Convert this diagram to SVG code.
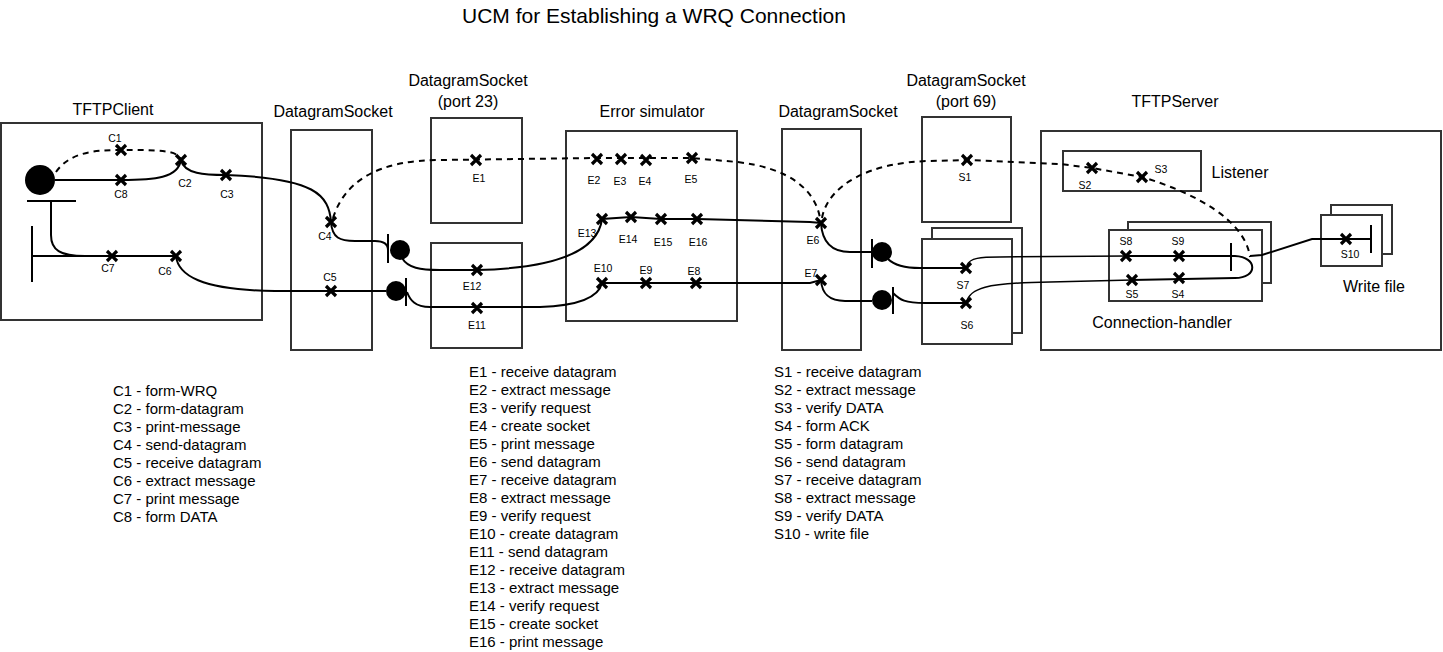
<svg xmlns="http://www.w3.org/2000/svg" width="1443" height="652" viewBox="0 0 1443 652">
<defs>
<style>
text{font-family:"Liberation Sans",Arial,sans-serif;fill:#000}
.t{font-size:21px;text-anchor:middle}
.h{font-size:16px;text-anchor:middle}
.l{font-size:10.5px;text-anchor:middle}
.g{font-size:15px}
.box{fill:#fff;stroke:#333;stroke-width:2}
.p{fill:none;stroke:#000;stroke-width:2}
.thin{fill:none;stroke:#000;stroke-width:1.5}
.d{fill:none;stroke:#000;stroke-width:2;stroke-dasharray:6,5}
.bar{stroke:#000;stroke-width:2}
.x{fill:none;stroke:#000;stroke-width:3.2}
</style>
<path id="x" class="x" d="M-5,-5 L5,5 M5,-5 L-5,5"/>
</defs>
<rect width="1443" height="652" fill="#fff"/>
<text class="t" x="654" y="23">UCM for Establishing a WRQ Connection</text>

<g id="tftpclient">
<rect class="box" x="1" y="123" width="261" height="197"/>
<text class="h" x="113" y="115">TFTPClient</text>
</g>
<g id="dsock1">
<rect class="box" x="291" y="130" width="81" height="220"/>
<text class="h" x="333" y="117">DatagramSocket</text>
</g>
<g id="port23">
<rect class="box" x="431" y="118" width="91" height="105"/>
<rect class="box" x="431" y="243" width="91" height="105"/>
<text class="h" x="468" y="86">DatagramSocket</text>
<text class="h" x="468" y="107">(port 23)</text>
</g>
<g id="errorsim">
<rect class="box" x="566" y="131" width="171" height="190"/>
<text class="h" x="652" y="117">Error simulator</text>
</g>
<g id="dsock2">
<rect class="box" x="782" y="129" width="79" height="221"/>
<text class="h" x="838" y="117">DatagramSocket</text>
</g>
<g id="port69">
<rect class="box" x="922" y="117" width="89" height="105"/>
<rect class="box" x="932" y="228" width="90" height="105"/>
<rect class="box" x="922" y="239" width="90" height="105"/>
<text class="h" x="966" y="86">DatagramSocket</text>
<text class="h" x="966" y="107">(port 69)</text>
</g>
<g id="tftpserver">
<rect class="box" x="1041" y="131" width="400" height="219"/>
<text class="h" x="1175" y="107">TFTPServer</text>
</g>
<g id="listener">
<rect class="box" x="1063" y="151" width="138" height="40"/>
<text class="h" x="1240" y="178">Listener</text>
</g>
<g id="connhandler">
<rect class="box" x="1128" y="222" width="143" height="61"/>
<rect class="box" x="1109" y="230" width="153" height="71"/>
<text class="h" x="1162" y="328">Connection-handler</text>
</g>
<g id="writefile">
<rect class="box" x="1331" y="205" width="61" height="49"/>
<rect class="box" x="1321" y="215" width="61" height="51"/>
<text class="h" x="1374" y="292">Write file</text>
</g>

<g id="connectors">
<circle cx="40" cy="180" r="15" fill="#000"/>
<line class="bar" x1="27" y1="201" x2="76" y2="201"/>
<path class="p" d="M55,180 L121,180 C155,180 178,178 181,160 C184,174 205,175 226,175 C315,178 329,195 331,222 C332,238 340,241 355,241 L375,241 C385,241 388,245 388,250"/>
<path class="d" d="M56,172 C70,152 95,150 121,150 C160,150 178,150 181,160"/>
<path class="p" d="M51,201 L51,235 C51,250 60,256 85,256 L32,256"/>
<path class="p" d="M85,256 L176,256 C178,275 200,290 275,291 L386,291"/>
<line class="bar" x1="32" y1="226" x2="32" y2="282"/>
<line class="bar" x1="388" y1="234" x2="388" y2="263"/>
<circle cx="400" cy="250" r="10" fill="#000"/>
<circle cx="396" cy="291" r="10" fill="#000"/>
<line class="bar" x1="406" y1="278" x2="406" y2="306"/>
<path class="d" d="M333,218 C345,180 380,160 440,160 L597,158 L692,158 L737,162 C790,168 815,190 820,218"/>
<path class="p" d="M402,258 C408,268 420,270 440,270 L477,270 C560,268 598,250 602,219 L631,217 L661,219 L697,219 L810,222 L821,223"/>
<path class="p" d="M821,280 L810,283 L602,283 C598,300 570,306 540,307 L430,307 C415,307 410,300 407,292"/>
<path class="p" d="M821,223 C822,240 830,252 850,252 L872,252"/>
<line class="bar" x1="872" y1="239" x2="872" y2="268"/>
<circle cx="882" cy="252" r="10" fill="#000"/>
<path class="p" d="M888,259 C895,266 905,268 920,268 L966,268"/>
<path class="p" d="M821,280 C822,295 830,301 845,301 L872,301"/>
<circle cx="882" cy="300" r="10" fill="#000"/>
<line class="bar" x1="893" y1="287" x2="893" y2="314"/>
<path class="p" d="M893,293 C900,300 905,303 925,303 L966,303"/>
<path class="d" d="M822,218 C828,185 870,162 930,161 L967,160 L1060,164 L1092,168 L1142,177 C1195,193 1245,220 1250,257"/>
<path class="thin" d="M967,265 C970,258 980,257 1000,257 L1127,256"/>
<path class="p" d="M1127,256 L1235,256 C1258,257 1258,278 1235,278 L1132,280"/>
<path class="thin" d="M1132,280 L1050,282 C985,283 970,288 966,303"/>
<line class="bar" x1="1231" y1="243" x2="1231" y2="271"/>
<path class="p" d="M1250,256 L1262,255 L1312,239 L1371,239"/>
<line class="bar" x1="1371" y1="225" x2="1371" y2="253"/>
</g>

<g id="points">
<use href="#x" x="121" y="150"/><use href="#x" x="121" y="180"/><use href="#x" x="181" y="160"/><use href="#x" x="226" y="175"/>
<use href="#x" x="331" y="222"/><use href="#x" x="331" y="291"/><use href="#x" x="112" y="256"/><use href="#x" x="176" y="256"/>
<use href="#x" x="476" y="160"/><use href="#x" x="477" y="270"/><use href="#x" x="477" y="308"/>
<use href="#x" x="597" y="159"/><use href="#x" x="621" y="159"/><use href="#x" x="646" y="160"/><use href="#x" x="692" y="158"/>
<use href="#x" x="602" y="219"/><use href="#x" x="631" y="217"/><use href="#x" x="661" y="219"/><use href="#x" x="697" y="219"/>
<use href="#x" x="602" y="283"/><use href="#x" x="646" y="283"/><use href="#x" x="696" y="283"/>
<use href="#x" x="821" y="223"/><use href="#x" x="821" y="280"/>
<use href="#x" x="967" y="160"/><use href="#x" x="966" y="268"/><use href="#x" x="966" y="303"/>
<use href="#x" x="1092" y="168"/><use href="#x" x="1142" y="177"/>
<use href="#x" x="1126" y="256"/><use href="#x" x="1179" y="256"/><use href="#x" x="1179" y="278"/><use href="#x" x="1132" y="280"/>
<use href="#x" x="1346" y="239"/>
</g>

<g id="labels">
<text class="l" x="115" y="142">C1</text><text class="l" x="121" y="198">C8</text><text class="l" x="185" y="187">C2</text><text class="l" x="227" y="198">C3</text>
<text class="l" x="108" y="272">C7</text><text class="l" x="165" y="275">C6</text><text class="l" x="325" y="240">C4</text><text class="l" x="330" y="281">C5</text>
<text class="l" x="479" y="182">E1</text><text class="l" x="472" y="290">E12</text><text class="l" x="477" y="329">E11</text>
<text class="l" x="594" y="184">E2</text><text class="l" x="620" y="185">E3</text><text class="l" x="645" y="185">E4</text><text class="l" x="691" y="183">E5</text>
<text class="l" x="587" y="237">E13</text><text class="l" x="628" y="243">E14</text><text class="l" x="663" y="246">E15</text><text class="l" x="698" y="246">E16</text>
<text class="l" x="603" y="272">E10</text><text class="l" x="646" y="274">E9</text><text class="l" x="694" y="275">E8</text>
<text class="l" x="813" y="244">E6</text><text class="l" x="811" y="277">E7</text>
<text class="l" x="965" y="181">S1</text><text class="l" x="963" y="289">S7</text><text class="l" x="967" y="329">S6</text>
<text class="l" x="1085" y="189">S2</text><text class="l" x="1161" y="173">S3</text>
<text class="l" x="1126" y="245">S8</text><text class="l" x="1178" y="245">S9</text><text class="l" x="1132" y="298">S5</text><text class="l" x="1178" y="298">S4</text>
<text class="l" x="1350" y="258">S10</text>
</g>

<g id="legend">
<text class="g" x="113" y="396">C1 - form-WRQ</text>
<text class="g" x="113" y="414">C2 - form-datagram</text>
<text class="g" x="113" y="432">C3 - print-message</text>
<text class="g" x="113" y="450">C4 - send-datagram</text>
<text class="g" x="113" y="468">C5 - receive datagram</text>
<text class="g" x="113" y="486">C6 - extract message</text>
<text class="g" x="113" y="504">C7 - print message</text>
<text class="g" x="113" y="522">C8 - form DATA</text>
<text class="g" x="469" y="377">E1 - receive datagram</text>
<text class="g" x="469" y="395">E2 - extract message</text>
<text class="g" x="469" y="413">E3 - verify request</text>
<text class="g" x="469" y="431">E4 - create socket</text>
<text class="g" x="469" y="449">E5 - print message</text>
<text class="g" x="469" y="467">E6 - send datagram</text>
<text class="g" x="469" y="485">E7 - receive datagram</text>
<text class="g" x="469" y="503">E8 - extract message</text>
<text class="g" x="469" y="521">E9 - verify request</text>
<text class="g" x="469" y="539">E10 - create datagram</text>
<text class="g" x="469" y="557">E11 - send datagram</text>
<text class="g" x="469" y="575">E12 - receive datagram</text>
<text class="g" x="469" y="593">E13 - extract message</text>
<text class="g" x="469" y="611">E14 - verify request</text>
<text class="g" x="469" y="629">E15 - create socket</text>
<text class="g" x="469" y="647">E16 - print message</text>
<text class="g" x="774" y="377">S1 - receive datagram</text>
<text class="g" x="774" y="395">S2 - extract message</text>
<text class="g" x="774" y="413">S3 - verify DATA</text>
<text class="g" x="774" y="431">S4 - form ACK</text>
<text class="g" x="774" y="449">S5 - form datagram</text>
<text class="g" x="774" y="467">S6 - send datagram</text>
<text class="g" x="774" y="485">S7 - receive datagram</text>
<text class="g" x="774" y="503">S8 - extract message</text>
<text class="g" x="774" y="521">S9 - verify DATA</text>
<text class="g" x="774" y="539">S10 - write file</text>
</g>
</svg>
